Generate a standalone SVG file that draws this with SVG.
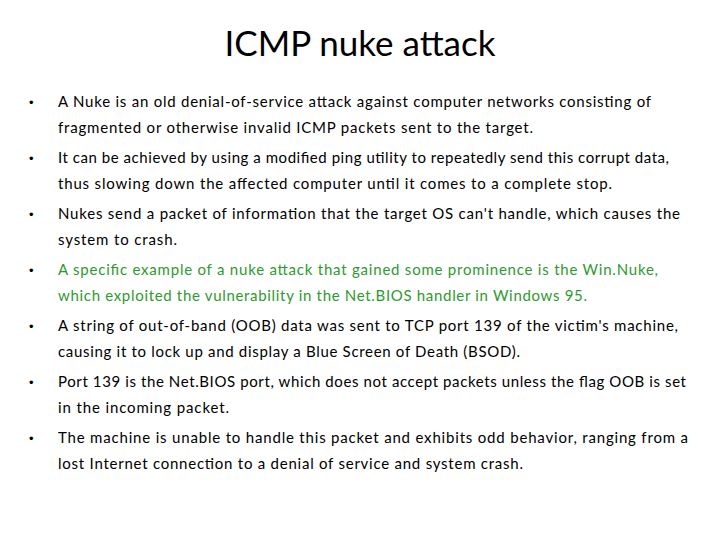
<svg xmlns="http://www.w3.org/2000/svg" width="720" height="540" viewBox="0 0 720 540">
<style>
.t{font-family:Lato,"Liberation Sans",sans-serif;font-size:15px;fill:#000}
.g{fill:#2e9a2e}
.b{font-family:"Liberation Sans",sans-serif;font-size:13px}
</style>
<rect width="720" height="540" fill="#fff"/>
<text x="360" y="56" text-anchor="middle" style="font-family:Lato,'Liberation Sans',sans-serif;font-size:35px">ICMP nuke attack</text>
<g id="b1"><text class="b" x="29" y="107">•</text>
<text class="t" x="58" y="107" textLength="593" lengthAdjust="spacing">A Nuke is an old denial-of-service attack against computer networks consisting of</text>
<text class="t" x="58" y="133" textLength="475" lengthAdjust="spacing">fragmented or otherwise invalid ICMP packets sent to the target.</text></g>
<g id="b2"><text class="b" x="29" y="163">•</text>
<text class="t" x="58" y="163" textLength="611" lengthAdjust="spacing">It can be achieved by using a modified ping utility to repeatedly send this corrupt data,</text>
<text class="t" x="58" y="189" textLength="554" lengthAdjust="spacing">thus slowing down the affected computer until it comes to a complete stop.</text></g>
<g id="b3"><text class="b" x="29" y="219">•</text>
<text class="t" x="58" y="219" textLength="622" lengthAdjust="spacing">Nukes send a packet of information that the target OS can't handle, which causes the</text>
<text class="t" x="58" y="245" textLength="119" lengthAdjust="spacing">system to crash.</text></g>
<g id="b4"><text class="b" x="29" y="275">•</text>
<text class="t g" x="58" y="275" textLength="600" lengthAdjust="spacing">A specific example of a nuke attack that gained some prominence is the Win.Nuke,</text>
<text class="t g" x="58" y="301" textLength="529" lengthAdjust="spacing">which exploited the vulnerability in the Net.BIOS handler in Windows 95.</text></g>
<g id="b5"><text class="b" x="29" y="331">•</text>
<text class="t" x="58" y="331" textLength="620" lengthAdjust="spacing">A string of out-of-band  (OOB) data was sent to TCP port 139 of the victim's machine,</text>
<text class="t" x="58" y="357" textLength="462" lengthAdjust="spacing">causing it to lock up and display a Blue Screen of Death (BSOD).</text></g>
<g id="b6"><text class="b" x="29" y="387">•</text>
<text class="t" x="58" y="387" textLength="628" lengthAdjust="spacing">Port 139 is the Net.BIOS port, which does not accept packets unless the flag OOB is set</text>
<text class="t" x="58" y="413" textLength="171" lengthAdjust="spacing">in the incoming packet.</text></g>
<g id="b7"><text class="b" x="29" y="443">•</text>
<text class="t" x="58" y="443" textLength="630" lengthAdjust="spacing">The machine is unable to handle this packet and exhibits odd behavior, ranging from a</text>
<text class="t" x="58" y="469" textLength="465" lengthAdjust="spacing">lost Internet connection to a denial of service and system crash.</text></g>
</svg>
